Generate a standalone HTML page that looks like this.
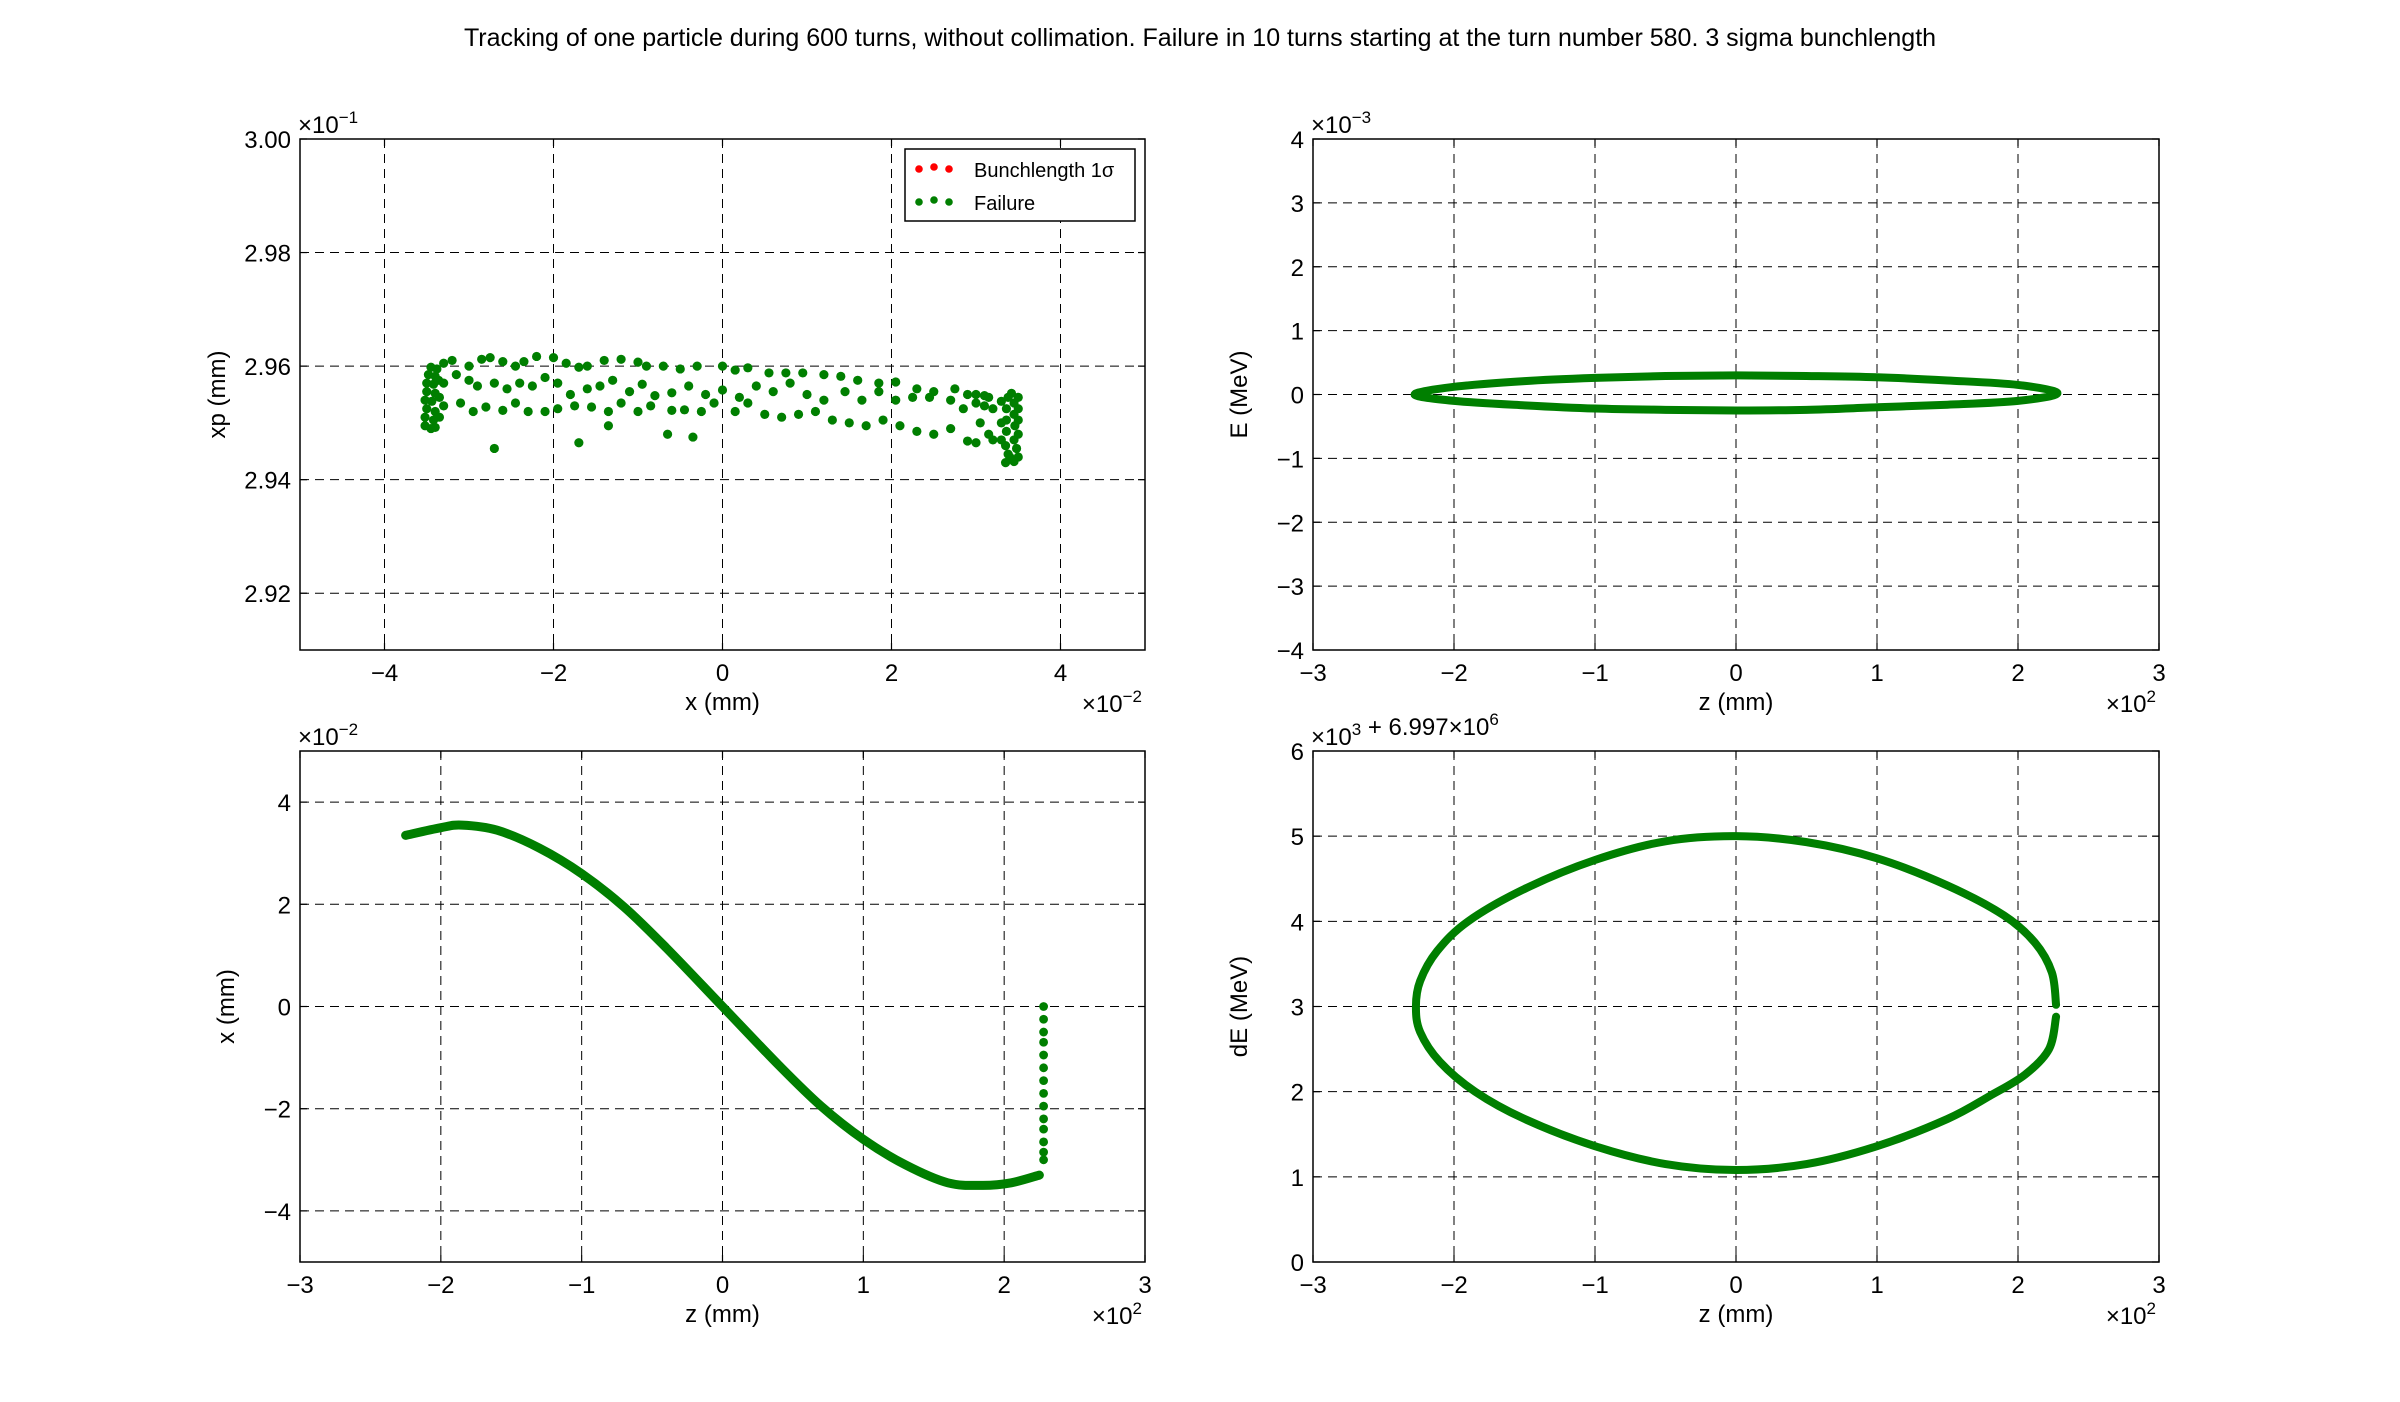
<!DOCTYPE html>
<html><head><meta charset="utf-8">
<style>
html,body{margin:0;padding:0;background:#fff;}
svg{display:block;font-family:"Liberation Sans","DejaVu Sans",sans-serif;}
</style></head>
<body>
<svg id="fig" width="2400" height="1402" viewBox="0 0 2400 1402" xmlns="http://www.w3.org/2000/svg">
<rect width="2400" height="1402" fill="#fff"/>
<text x="1200" y="46" font-size="25" text-anchor="middle" fill="#000">Tracking of one particle during 600 turns, without collimation. Failure in 10 turns starting at the turn number 580. 3 sigma bunchlength</text>
</svg>
<script>
// ---------- DATA ----------
// Panel A: xp vs x (x in 1e-2 mm, xp in 1e-1 mm)
const scatterX = [-3.3,-3.2,-3.0,-2.85,-2.75,-2.6,-2.45,-2.35,-2.2,-2.0,-1.85,-1.7,-1.6,-1.4,-1.2,-1.0,-0.9,-0.7,-0.5,-0.3,0.0,0.15,0.3,0.55,0.75,0.95,1.2,1.4,1.6,1.85,2.05,2.3,2.5,2.75,2.9,3.1,
-3.3,-3.15,-3.0,-2.9,-2.7,-2.55,-2.4,-2.25,-2.1,-1.95,-1.8,-1.6,-1.45,-1.3,-1.1,-0.95,-0.8,-0.6,-0.4,-0.2,0.0,0.2,0.4,0.6,0.8,1.0,1.2,1.45,1.65,1.85,2.05,2.25,2.45,2.7,2.85,3.0,3.15,
-3.3,-3.1,-2.95,-2.8,-2.6,-2.45,-2.3,-2.1,-1.95,-1.75,-1.55,-1.35,-1.2,-1.0,-0.85,-0.6,-0.45,-0.25,-0.1,0.15,0.3,0.5,0.7,0.9,1.1,1.3,1.5,1.7,1.9,2.1,2.3,2.5,2.7,2.9,3.0,3.2,
-2.7,-1.7,-0.65,-0.35,-1.35,3.0,3.1,3.2,3.05,3.15,
-3.52,-3.45,-3.4,-3.52,-3.42,-3.5,-3.4,-3.52,-3.44,-3.5,-3.4,-3.5,-3.42,-3.48,-3.4,-3.45,-3.38,-3.35,-3.35,-3.36,
3.35,3.45,3.5,3.38,3.48,3.35,3.45,3.5,3.36,3.46,3.5,3.36,3.45,3.5,3.36,3.45,3.5,3.38,3.42,3.3,3.3,3.3,3.4];
const scatterXp = [2.9605,2.9610,2.9600,2.9612,2.9615,2.9608,2.9600,2.9608,2.9617,2.9615,2.9605,2.9598,2.9600,2.9610,2.9612,2.9607,2.9600,2.9600,2.9595,2.9600,2.9600,2.9593,2.9597,2.9588,2.9588,2.9588,2.9585,2.9582,2.9575,2.9570,2.9572,2.9560,2.9555,2.9560,2.9550,2.9548,
2.9570,2.9585,2.9575,2.9565,2.9570,2.9560,2.9570,2.9565,2.9580,2.9570,2.9550,2.9560,2.9565,2.9575,2.9555,2.9568,2.9548,2.9553,2.9565,2.9550,2.9558,2.9545,2.9565,2.9555,2.9570,2.9550,2.9540,2.9555,2.9540,2.9555,2.9540,2.9545,2.9545,2.9540,2.9525,2.9535,2.9545,
2.9530,2.9535,2.9520,2.9528,2.9522,2.9535,2.9520,2.9520,2.9525,2.9530,2.9528,2.9520,2.9535,2.9520,2.9530,2.9522,2.9523,2.9520,2.9535,2.9520,2.9535,2.9515,2.9510,2.9515,2.9520,2.9505,2.9500,2.9495,2.9505,2.9495,2.9485,2.9480,2.9490,2.9468,2.9465,2.9470,
2.9455,2.9465,2.9480,2.9475,2.9495,2.9550,2.9530,2.9525,2.9500,2.9480,
2.9495,2.9490,2.9492,2.9510,2.9505,2.9525,2.9520,2.9540,2.9538,2.9555,2.9552,2.9570,2.9568,2.9585,2.9582,2.9598,2.9595,2.9545,2.9510,2.9575,
2.9430,2.9432,2.9440,2.9445,2.9455,2.9460,2.9470,2.9480,2.9485,2.9495,2.9505,2.9505,2.9515,2.9525,2.9525,2.9535,2.9545,2.9545,2.9552,2.9538,2.9500,2.9470,2.9440];
// Panel B: E vs z (z in 1e2 mm, E in 1e-3 MeV)
const ringZ = [-2.28,-2.0,-1.5,-1.0,-0.5,0,0.5,1.0,1.5,2.0,2.28,2.0,1.5,1.0,0.5,0,-0.5,-1.0,-1.5,-2.0,-2.28];
const ringE = [0.0,0.12,0.21,0.26,0.29,0.30,0.29,0.27,0.22,0.15,0.02,-0.10,-0.16,-0.20,-0.24,-0.25,-0.24,-0.22,-0.17,-0.10,0.0];
// Panel C: x vs z (z in 1e2 mm, x in 1e-2 mm)
const curveZ = [-2.25,-2.0,-1.85,-1.6,-1.3,-1.0,-0.7,-0.4,0,0.4,0.7,1.0,1.3,1.6,1.85,2.05,2.25];
const curveX = [3.35,3.5,3.55,3.45,3.1,2.6,1.95,1.15,0,-1.15,-1.95,-2.6,-3.1,-3.45,-3.5,-3.45,-3.3];
const failZ = [2.28,2.28,2.28,2.28,2.28,2.28,2.28,2.28,2.28,2.28,2.28,2.28,2.28,2.28];
const failX = [0,-0.25,-0.5,-0.7,-0.95,-1.2,-1.45,-1.7,-1.95,-2.2,-2.4,-2.65,-2.85,-3.0];
// Panel D: dE vs z (z in 1e2 mm, dE in 1e3 + 6.997e6 MeV)
const loopZ = [2.27,2.24,2.12,1.9,1.5,1.0,0.5,0,-0.5,-1.0,-1.5,-1.9,-2.12,-2.24,-2.27,-2.24,-2.1,-1.85,-1.5,-1.0,-0.5,0,0.5,1.0,1.5,1.8,2.05,2.22,2.27];
const loopDE = [3.02,3.4,3.75,4.07,4.42,4.74,4.93,5.0,4.94,4.72,4.38,4.0,3.65,3.3,3.0,2.7,2.35,2.0,1.68,1.36,1.15,1.08,1.15,1.36,1.68,1.95,2.2,2.5,2.88];
const ticksA_x = [-4,-2,0,2,4], ticksA_y = [2.92,2.94,2.96,2.98,3.00];
const ticksZ = [-3,-2,-1,0,1,2,3];
const ticksB_y = [-4,-3,-2,-1,0,1,2,3,4];
const ticksC_y = [-4,-2,0,2,4];
const ticksD_y = [0,1,2,3,4,5,6];

// ---------- DRAWING ----------
const NS = "http://www.w3.org/2000/svg";
const svg = document.getElementById('fig');
const GREEN = "#007f00";
function mk(tag, attrs, parent){ const e=document.createElementNS(NS,tag); for(const k in attrs) e.setAttribute(k,attrs[k]); (parent||svg).appendChild(e); return e; }

function makeAxes(o){
  const g = mk('g',{});
  
  
  const sx = v => o.x0 + (v - o.xmin)/(o.xmax-o.xmin)*(o.x1-o.x0);
  const sy = v => o.y1 - (v - o.ymin)/(o.ymax-o.ymin)*(o.y1-o.y0);
  o.xt.forEach(t=>{ const X=sx(t); if(X>o.x0+1&&X<o.x1-1){ const l=mk('line',{x1:X,x2:X,y1:o.y0,y2:o.y1,stroke:"#000","stroke-width":1,"stroke-dasharray":"9,6"},g);
      }});
  o.yt.forEach(t=>{ const Y=sy(t); if(Y>o.y0+1&&Y<o.y1-1){ const l=mk('line',{x1:o.x0,x2:o.x1,y1:Y,y2:Y,stroke:"#000","stroke-width":1,"stroke-dasharray":"9,6"},g);
      }});
  o.xt.forEach(t=>{ const X=sx(t);
    mk('line',{x1:X,x2:X,y1:o.y1,y2:o.y1-7,stroke:"#000","stroke-width":1.2},g);
    mk('line',{x1:X,x2:X,y1:o.y0,y2:o.y0+7,stroke:"#000","stroke-width":1.2},g);
    const tx=mk('text',{x:X,y:o.y1+31,"font-size":24,"text-anchor":"middle"},g);
    tx.textContent=(t<0?"\u2212"+(-t):String(t));
      });
  o.yt.forEach(t=>{ const Y=sy(t);
    mk('line',{x1:o.x0,x2:o.x0+7,y1:Y,y2:Y,stroke:"#000","stroke-width":1.2},g);
    mk('line',{x1:o.x1,x2:o.x1-7,y1:Y,y2:Y,stroke:"#000","stroke-width":1.2},g);
    const tx=mk('text',{x:o.x0-9,y:Y+9,"font-size":24,"text-anchor":"end"},g);
    tx.textContent=(o.yfmt?o.yfmt(t):(t<0?"\u2212"+(-t):String(t)));
      });
  const xl=mk('text',{x:(o.x0+o.x1)/2,y:o.y1+60,"font-size":24,"text-anchor":"middle"},g); xl.textContent=o.xlabel;
   
  const yx=o.x0-o.ylOff, yy=(o.y0+o.y1)/2;
  const yl=mk('text',{x:yx,y:yy,"font-size":24,"text-anchor":"middle",transform:`rotate(-90 ${yx} ${yy})`},g); yl.textContent=o.ylabel;
   
  if(o.xmult){ const m=mk('text',{x:o.x1-3,y:o.y1+62,"font-size":24,"text-anchor":"end"},g); m.innerHTML=o.xmult;
      }
  if(o.ymult){ const m=mk('text',{x:o.x0-2,y:o.y0-6,"font-size":24,"text-anchor":"start"},g); m.innerHTML=o.ymult;
      }
  const plot = mk('g',{},g);
   
  return {g, sx, sy, plot, frame:()=>{ const r=mk('rect',{x:o.x0,y:o.y0,width:o.x1-o.x0,height:o.y1-o.y0,fill:"none",stroke:"#000","stroke-width":1.5},g);
      }};
}
function smoothPath(pts, closed){
  const n=pts.length; let d=`M${pts[0][0]},${pts[0][1]}`;
  for(let i=0;i<n-1;i++){
    const p0=pts[i>0?i-1:(closed?n-2:0)], p1=pts[i], p2=pts[i+1], p3=pts[i+2<n?i+2:(closed?1:n-1)];
    const c1=[p1[0]+(p2[0]-p0[0])/6, p1[1]+(p2[1]-p0[1])/6], c2=[p2[0]-(p3[0]-p1[0])/6, p2[1]-(p3[1]-p1[1])/6];
    d+=` C${c1[0]},${c1[1]} ${c2[0]},${c2[1]} ${p2[0]},${p2[1]}`;
  }
  return d;
}
const sup = s => `<tspan dy="-10" font-size="17">${s}</tspan><tspan dy="10"></tspan>`;

const L0=300, L1=1145, R0=1313, R1=2159, T0=139, T1=650, B0=751, B1=1262;

// Panel A
const A = makeAxes({name:'xp-vs-x-panel',x0:L0,x1:L1,y0:T0,y1:T1,xmin:-5,xmax:5,ymin:2.91,ymax:3.00,xt:ticksA_x,yt:ticksA_y,ylOff:75,
  yfmt:t=>t.toFixed(2),xlabel:'x (mm)',ylabel:'xp (mm)',xmult:'\u00d710'+sup('\u22122'),ymult:'\u00d710'+sup('\u22121')});
scatterX.forEach((v,i)=>{ const c=mk('circle',{cx:A.sx(v),cy:A.sy(scatterXp[i]),r:4.6,fill:GREEN},A.plot);
    });
A.frame();
const lg = mk('g',{});  
mk('rect',{x:905,y:149,width:230,height:72,fill:"#fff",stroke:"#000","stroke-width":1.5},lg);
const le1=mk('g',{},lg);  
[919,934,949].forEach((x,i)=>mk('circle',{cx:x,cy:i==1?167:169,r:3.8,fill:"#ff0000"},le1));
const t1=mk('text',{x:974,y:177,"font-size":20},le1); t1.textContent='Bunchlength 1\u03c3';
const le2=mk('g',{},lg);  
[919,934,949].forEach((x,i)=>mk('circle',{cx:x,cy:i==1?200:202,r:3.8,fill:GREEN},le2));
const t2=mk('text',{x:974,y:210,"font-size":20},le2); t2.textContent='Failure';

// Panel B
const B = makeAxes({name:'energy-vs-z-panel',x0:R0,x1:R1,y0:T0,y1:T1,xmin:-3,xmax:3,ymin:-4,ymax:4,xt:ticksZ,yt:ticksB_y,ylOff:66,
  xlabel:'z (mm)',ylabel:'E (MeV)',xmult:'\u00d710'+sup('2'),ymult:'\u00d710'+sup('\u22123')});
{ const p=mk('path',{d:smoothPath(ringZ.map((z,i)=>[B.sx(z),B.sy(ringE[i])]),true),fill:"none",stroke:GREEN,"stroke-width":8,"stroke-linejoin":"round"},B.plot);
    }
B.frame();

// Panel C
const C = makeAxes({name:'x-vs-z-panel',x0:L0,x1:L1,y0:B0,y1:B1,xmin:-3,xmax:3,ymin:-5,ymax:5,xt:ticksZ,yt:ticksC_y,ylOff:66,
  xlabel:'z (mm)',ylabel:'x (mm)',xmult:'\u00d710'+sup('2'),ymult:'\u00d710'+sup('\u22122')});
{ const p=mk('path',{d:smoothPath(curveZ.map((z,i)=>[C.sx(z),C.sy(curveX[i])]),false),fill:"none",stroke:GREEN,"stroke-width":9,"stroke-linecap":"round"},C.plot);
    }
failZ.forEach((z,i)=>{ const c=mk('circle',{cx:C.sx(z),cy:C.sy(failX[i]),r:4.4,fill:GREEN},C.plot);
    });
C.frame();

// Panel D
const D = makeAxes({name:'de-vs-z-panel',x0:R0,x1:R1,y0:B0,y1:B1,xmin:-3,xmax:3,ymin:0,ymax:6,xt:ticksZ,yt:ticksD_y,ylOff:66,
  xlabel:'z (mm)',ylabel:'dE (MeV)',xmult:'\u00d710'+sup('2'),ymult:'\u00d710'+sup('3')+' + 6.997\u00d710'+sup('6')});
{ const p=mk('path',{d:smoothPath(loopZ.map((z,i)=>[D.sx(z),D.sy(loopDE[i])]),false),fill:"none",stroke:GREEN,"stroke-width":8,"stroke-linecap":"round"},D.plot);
    }
D.frame();
</script>
</body></html>
